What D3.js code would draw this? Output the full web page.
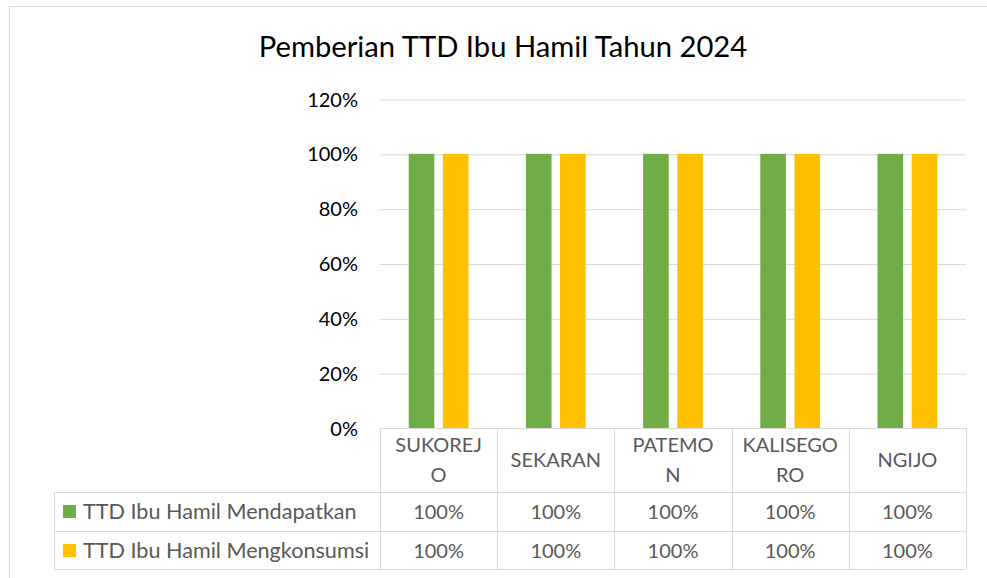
<!DOCTYPE html>
<html>
<head>
<meta charset="utf-8">
<script src="https://cdn.jsdelivr.net/npm/d3@7"></script>
<style>
  body { margin: 0; background: #fff; }
  svg text { font-family: Lato, "Open Sans", sans-serif; }
</style>
</head>
<body>
<div id="chart"></div>
<script>
// data
var categories = ["SUKOREJO", "SEKARAN", "PATEMON", "KALISEGORO", "NGIJO"];
// how the category names wrap inside the table header
var categoryLines = [["SUKOREJ", "O"], ["SEKARAN"], ["PATEMO", "N"], ["KALISEGO", "RO"], ["NGIJO"]];
var seriesNames = ["TTD Ibu Hamil Mendapatkan", "TTD Ibu Hamil Mengkonsumsi"];
var mendapatkan = [1, 1, 1, 1, 1];
var mengkonsumsi = [1, 1, 1, 1, 1];
var yTicks = [0, 0.2, 0.4, 0.6, 0.8, 1.0, 1.2];
var colors = ["#70AD47", "#FFC000"];

var seriesValues = [mendapatkan, mengkonsumsi];
var width = 987, height = 578;
var grid = "#d9d9d9";

var svg = d3.select("#chart").append("svg")
    .attr("width", width)
    .attr("height", height);

// chart border (runs off the picture at right and bottom)
svg.append("rect")
    .attr("x", 9.5).attr("y", 6.5)
    .attr("width", 1000).attr("height", 600)
    .attr("fill", "none")
    .attr("stroke", grid);

// title
svg.append("text")
    .attr("x", 503).attr("y", 57)
    .attr("text-anchor", "middle")
    .style("font-size", "29.2px")
    .style("fill", "#000")
    .text("Pemberian TTD Ibu Hamil Tahun 2024");

// scales
var x0 = d3.scaleBand().domain(categories).range([380, 966]);
var groupW = x0.bandwidth() * 0.51;
var x1 = d3.scaleBand().domain(seriesNames)
    .range([(x0.bandwidth() - groupW) / 2, (x0.bandwidth() + groupW) / 2])
    .paddingInner(0.25);
var y = d3.scaleLinear().domain([0, 1.2]).range([428, 99]);

// gridlines
svg.append("g")
    .attr("transform", "translate(380,0)")
    .call(d3.axisLeft(y).tickValues(yTicks.slice(1)).tickSize(-586).tickFormat(""))
    .call(function(g) {
      g.select(".domain").remove();
      g.selectAll("line").attr("stroke", grid).attr("transform", "translate(0,0.5)");
    });

// y labels
svg.append("g")
    .attr("transform", "translate(358,0)")
    .call(d3.axisLeft(y).tickValues(yTicks).tickSize(0).tickPadding(0).tickFormat(d3.format(".0%")))
    .call(function(g) {
      g.select(".domain").remove();
      g.selectAll("text").style("font-size", "20px").style("fill", "#000").attr("dy", "0.35em");
    });

// bars
var groups = svg.append("g").selectAll("g")
    .data(categories)
    .enter().append("g")
    .attr("transform", function(d) { return "translate(" + x0(d) + ",0)"; });

groups.selectAll("rect")
    .data(function(d, i) {
      return seriesNames.map(function(s, j) { return { s: s, v: seriesValues[j][i], c: colors[j] }; });
    })
    .enter().append("rect")
    .attr("x", function(d) { return x1(d.s); })
    .attr("width", x1.bandwidth())
    .attr("y", function(d) { return y(d.v); })
    .attr("height", function(d) { return y(0) - y(d.v); })
    .attr("fill", function(d) { return d.c; });

// data table
var rowTop = [492, 531];
var rowBottom = 569;
var tbl = svg.append("g").attr("stroke", grid).attr("stroke-width", 1);

tbl.append("line").attr("x1", 380).attr("x2", 966).attr("y1", y(0) + 0.5).attr("y2", y(0) + 0.5);
rowTop.concat([rowBottom]).forEach(function(yy) {
  tbl.append("line").attr("x1", 54).attr("x2", 966).attr("y1", yy + 0.5).attr("y2", yy + 0.5);
});
tbl.append("line").attr("x1", 54.5).attr("x2", 54.5).attr("y1", 492).attr("y2", rowBottom);
categories.forEach(function(c) {
  var xx = Math.round(x0(c)) + 0.5;
  tbl.append("line").attr("x1", xx).attr("x2", xx).attr("y1", y(0)).attr("y2", rowBottom);
});
tbl.append("line").attr("x1", 966.5).attr("x2", 966.5).attr("y1", y(0)).attr("y2", rowBottom);

// category header
categories.forEach(function(c, i) {
  var lines = categoryLines[i];
  var cy = 460 - (lines.length - 1) * 15;
  lines.forEach(function(l, k) {
    svg.append("text")
      .attr("x", x0(c) + x0.bandwidth() / 2)
      .attr("y", cy + k * 30)
      .attr("dy", "0.35em")
      .attr("text-anchor", "middle")
      .style("font-size", "20px")
      .style("fill", "#595959")
      .text(l);
  });
});

// legend column + values
seriesNames.forEach(function(s, j) {
  var cy = rowTop[j] + 19.5;
  svg.append("rect")
    .attr("x", 63).attr("y", cy - 6.5)
    .attr("width", 13).attr("height", 13)
    .attr("fill", colors[j]);
  svg.append("text")
    .attr("x", 83).attr("y", cy).attr("dy", "0.35em")
    .style("font-size", "21.6px")
    .style("fill", "#595959")
    .text(s);
  categories.forEach(function(c, i) {
    svg.append("text")
      .attr("x", x0(c) + x0.bandwidth() / 2)
      .attr("y", cy).attr("dy", "0.35em")
      .attr("text-anchor", "middle")
      .style("font-size", "20px")
      .style("fill", "#595959")
      .text(d3.format(".0%")(seriesValues[j][i]));
  });
});
</script>
</body>
</html>
